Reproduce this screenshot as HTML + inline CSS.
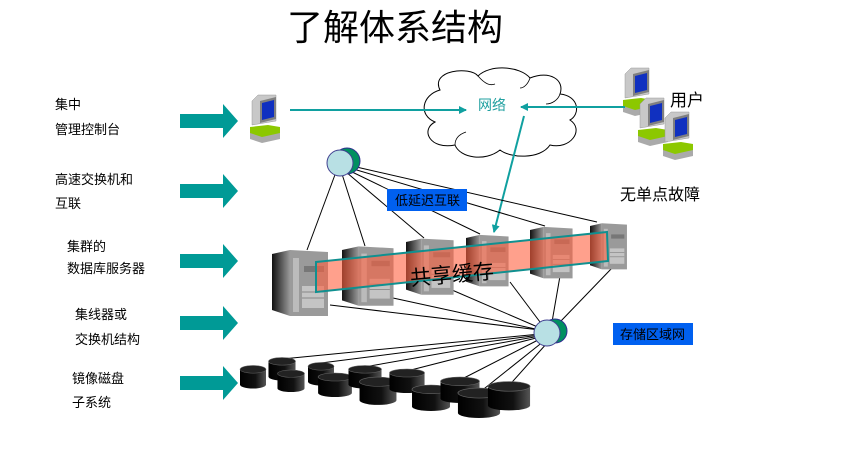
<!DOCTYPE html>
<html><head><meta charset="utf-8"><style>
body{margin:0;background:#fff;width:842px;height:448px;overflow:hidden}
svg text{font-family:"Liberation Sans","Noto Sans CJK SC",sans-serif}
</style></head><body>
<svg width="842" height="448" viewBox="0 0 842 448" xmlns="http://www.w3.org/2000/svg">
<defs>
<linearGradient id="side" x1="0" x2="1"><stop offset="0" stop-color="#111"/><stop offset="1" stop-color="#999"/></linearGradient>
<linearGradient id="disk" x1="0" x2="1"><stop offset="0" stop-color="#000"/><stop offset="0.6" stop-color="#111"/><stop offset="1" stop-color="#555"/></linearGradient>
<g id="pc">
<polygon points="2,6 8,0 26,0 26,26 2,30" fill="#c8c8c8" stroke="#999" stroke-width="0.5"/>
<polygon points="10,6 26,2 26,24 10,28" fill="#808080"/>
<polygon points="12,8 24,5 24,22 12,25" fill="#1030c0"/>
<polygon points="0,32 18,30 30,32 30,40 12,44 0,40" fill="#8cc800"/>
<polygon points="0,38 12,42 30,38 30,44 12,48 0,44" fill="#aaa"/>
</g>
<g id="srv">
<polygon points="0,0 18,-4 18,62 0,56" fill="url(#side)"/>
<polygon points="18,-4 56,-2 56,62 18,62" fill="#9a9a9a"/>
<rect x="21" y="4" width="6" height="54" fill="#bbb"/>
<rect x="32" y="12" width="20" height="6" fill="#777"/>
<rect x="30" y="32" width="22" height="22" fill="#c4c4c4"/>
<line x1="30" y1="38" x2="52" y2="38" stroke="#888"/><line x1="30" y1="44" x2="52" y2="44" stroke="#888"/>
</g>
<g id="dk">
<path d="M-13,-8 V8 A13,4 0 0 0 13,8 V-8 Z" fill="url(#disk)"/>
<ellipse cx="0" cy="-8" rx="13" ry="4" fill="#222" stroke="#666" stroke-width="0.5"/>
</g>
<marker id="ah" markerWidth="8" markerHeight="8" refX="7" refY="4" orient="auto" markerUnits="userSpaceOnUse"><path d="M0,0 L8,4 L0,8 Z" fill="#10a0a0"/></marker>
</defs>

<text x="395" y="40" font-size="36" text-anchor="middle" fill="#000">了解体系结构</text>

<g font-size="13" fill="#000">
<text x="55" y="109">集中</text><text x="55" y="134">管理控制台</text>
<text x="55" y="184">高速交换机和</text><text x="55" y="208">互联</text>
<text x="67" y="251">集群的</text><text x="67" y="273">数据库服务器</text>
<text x="75" y="319">集线器或</text><text x="75" y="344">交换机结构</text>
<text x="72" y="383">镜像磁盘</text><text x="72" y="407">子系统</text>
</g>
<g fill="#009a96">
<path d="M180,114 H223 V104 L238,121 L223,138 V128 H180 Z"/>
<path d="M180,184 H223 V174 L238,191 L223,208 V198 H180 Z"/>
<path d="M180,254 H223 V244 L238,261 L223,278 V268 H180 Z"/>
<path d="M180,316 H223 V306 L238,323 L223,340 V330 H180 Z"/>
<path d="M180,376 H223 V366 L238,383 L223,400 V390 H180 Z"/>
</g>

<use href="#pc" x="250" y="95"/>
<use href="#pc" x="623" y="68"/>
<use href="#pc" x="638" y="98"/>
<use href="#pc" x="663" y="112"/>

<path d="M440,90 C430,70 470,66 478,76 C490,64 520,66 530,78 C550,70 565,80 560,94 C580,96 580,115 570,120 C585,130 570,150 550,145 C540,160 510,158 500,150 C485,162 460,158 455,145 C430,150 420,130 435,122 C418,115 422,95 440,90 Z" fill="#fff" stroke="#000" stroke-width="1"/>
<path d="M478,76 C485,84 490,86 495,84 M530,78 C528,84 524,88 520,88 M560,94 C558,100 552,104 546,104 M455,145 C455,138 460,134 466,132" fill="none" stroke="#000" stroke-width="0.8"/>
<text x="478" y="110" font-size="14" fill="#20a0a0">网络</text>
<line x1="290" y1="110" x2="466" y2="110" stroke="#10a0a0" stroke-width="2" marker-end="url(#ah)"/>
<line x1="625" y1="107" x2="521" y2="107" stroke="#10a0a0" stroke-width="2" marker-end="url(#ah)"/>
<line x1="524" y1="116" x2="494" y2="232" stroke="#10a0a0" stroke-width="2" marker-end="url(#ah)"/>

<text x="670" y="106" font-size="17" fill="#000">用户</text>
<text x="620" y="200" font-size="16" fill="#000">无单点故障</text>

<g stroke="#000" stroke-width="1" fill="none">
<line x1="336" y1="172" x2="307" y2="250"/>
<line x1="342" y1="174" x2="365" y2="246"/>
<line x1="346" y1="172" x2="424" y2="238"/>
<line x1="348" y1="170" x2="480" y2="234"/>
<line x1="350" y1="168" x2="545" y2="226"/>
<line x1="352" y1="166" x2="597" y2="222"/>
<line x1="330" y1="305" x2="540" y2="330"/>
<line x1="393" y1="298" x2="540" y2="330"/>
<line x1="452" y1="290" x2="540" y2="328"/>
<line x1="510" y1="282" x2="540" y2="322"/>
<line x1="560" y1="276" x2="552" y2="322"/>
<line x1="612" y1="268" x2="560" y2="322"/>
<line x1="540" y1="334" x2="282" y2="359"/>
<line x1="540" y1="335" x2="321" y2="363"/>
<line x1="540" y1="336" x2="364" y2="367"/>
<line x1="540" y1="337" x2="407" y2="371"/>
<line x1="540" y1="339" x2="460" y2="380"/>
<line x1="544" y1="341" x2="480" y2="392"/>
<line x1="548" y1="342" x2="505" y2="390"/>
</g>

<circle cx="347" cy="161" r="13" fill="#009060" stroke="#303090"/>
<circle cx="340" cy="163" r="13" fill="#b8e0e4" stroke="#404090"/>
<circle cx="555" cy="331" r="12" fill="#009060" stroke="#303090"/>
<ellipse cx="547" cy="333" rx="13" ry="13" fill="#b8e0e4" stroke="#404090"/>

<rect x="387" y="189" width="80" height="22" fill="#0060f0"/>
<text x="395" y="205" font-size="13" fill="#000">低延迟互联</text>
<rect x="613" y="323" width="80" height="22" fill="#0060f0"/>
<text x="620" y="339" font-size="13" fill="#000">存储区域网</text>

<use href="#srv" transform="translate(272,254)"/>
<use href="#srv" transform="translate(342,250) scale(0.92,0.9)"/>
<use href="#srv" transform="translate(406,242) scale(0.85,0.85)"/>
<use href="#srv" transform="translate(466,238) scale(0.76,0.78)"/>
<use href="#srv" transform="translate(530,230) scale(0.76,0.78)"/>
<use href="#srv" transform="translate(590,226) scale(0.66,0.7)"/>

<polygon points="316,262 607,232 608,261 316,292" fill="#ff6040" fill-opacity="0.6" stroke="#109090" stroke-width="2"/>
<text x="410" y="282" font-size="21" fill="#000" transform="rotate(-5 450 275)">共享缓存</text>

<use href="#dk" transform="translate(253,377) scale(1,0.96)"/>
<use href="#dk" transform="translate(282,369) scale(1.04,0.96)"/>
<use href="#dk" transform="translate(291,381) scale(1.04,0.92)"/>
<use href="#dk" transform="translate(321,374) scale(1,0.96)"/>
<use href="#dk" transform="translate(335,385) scale(1.3,1)"/>
<use href="#dk" transform="translate(365,377) scale(1.27,0.96)"/>
<use href="#dk" transform="translate(378,391) scale(1.42,1.16)"/>
<use href="#dk" transform="translate(407,381) scale(1.35,1)"/>
<use href="#dk" transform="translate(431,398) scale(1.46,1.08)"/>
<use href="#dk" transform="translate(460,390) scale(1.5,1.08)"/>
<use href="#dk" transform="translate(479,403) scale(1.62,1.25)"/>
<use href="#dk" transform="translate(509,396) scale(1.62,1.2)"/>
</svg>
</body></html>
